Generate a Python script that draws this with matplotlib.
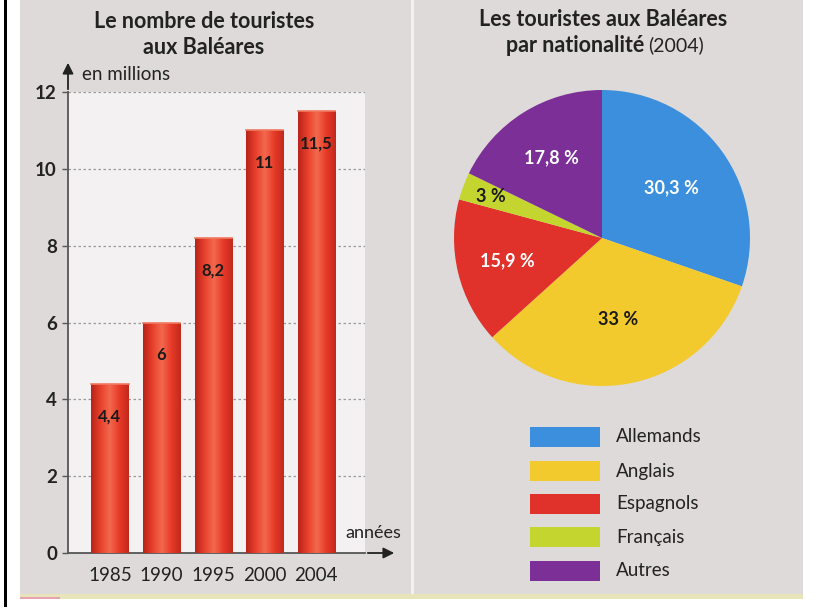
import matplotlib.pyplot as plt
import numpy as np
from matplotlib.colors import LinearSegmentedColormap
from matplotlib.patches import Rectangle

# Nombre de touristes (millions)
years = ["1985", "1990", "1995", "2000", "2004"]
tourists = [4.4, 6, 8.2, 11, 11.5]
tourist_labels = ["4,4", "6", "8,2", "11", "11,5"]

# Répartition par nationalité en 2004 (%)
nationalities = ["Allemands", "Anglais", "Espagnols", "Français", "Autres"]
shares = [30.3, 33, 15.9, 3, 17.8]
share_labels = ["30,3 %", "33 %", "15,9 %", "3 %", "17,8 %"]

pie_colors = ["#3b8fdc", "#f3ca2e", "#e0312a", "#c5d530", "#7b2f97"]
pie_text_colors = ["white", "#1a1a1a", "white", "#1a1a1a", "white"]
pie_text_dist = [0.58, 0.56, 0.66, 0.80, 0.64]

W, H = 822, 610
FONT = "Lato"
TXT = "#222222"

fig = plt.figure(figsize=(W / 100, H / 100), dpi=100)
fig.patch.set_facecolor("white")


def fx(px):
    return px / W


def fy(py):
    return 1 - py / H


def fig_rect(x0, y_top, w, h, color, z):
    fig.patches.append(Rectangle((fx(x0), fy(y_top + h)), w / W, h / H,
                                 transform=fig.transFigure, facecolor=color,
                                 edgecolor="none", zorder=z))


# fond gris et cadre
fig_rect(20, 0, 783, 599, "#dedad9", -10)
fig_rect(20, 594, 783, 5, "#e6e4b8", -9)
fig_rect(20, 597, 40, 2, "#e7a3b3", -9)
fig_rect(4, 0, 3, 607, "black", -9)
fig_rect(411, 0, 3, 594, "#f3f1f1", -9)

# ---------------------------------------------------------------------
# Histogramme
# ---------------------------------------------------------------------

ax = fig.add_axes([fx(68), fy(553), fx(365 - 68), (553 - 92) / H])
ax.set_zorder(1)
ax.set_facecolor("#f3f1f1")
x = np.arange(len(years))

for v in range(2, 13, 2):
    ax.axhline(v, color="#9a9a9a", linestyle=(0, (2, 2)), linewidth=0.9, zorder=1)

bar_cmap = LinearSegmentedColormap.from_list(
    "rouge", ["#b8241a", "#e8402c", "#f26a4e", "#e83a28", "#c22a1c"])
grad = np.linspace(0, 1, 64).reshape(1, -1)
bar_w = 0.72
bars = ax.bar(x, tourists, width=bar_w, color="#e23e2a", edgecolor="none", zorder=2)
for rect in bars:
    x0, w, h = rect.get_x(), rect.get_width(), rect.get_height()
    im = ax.imshow(grad, cmap=bar_cmap, aspect="auto",
                   extent=[x0, x0 + w, 0, h], zorder=3)
    im.set_clip_path(rect)
    ax.plot([x0, x0 + w], [h, h], color="#f07a60", linewidth=1.2, zorder=4)
ax.set_xlim(-0.816, 4.95)
ax.set_ylim(0, 12)

for xi, v, lab in zip(x, tourists, tourist_labels):
    ax.text(xi, v - 0.85, lab, ha="center", va="center", fontsize=12,
            fontweight="bold", color="#1a1a1a", family=FONT, zorder=5)

ax.set_xticks(x)
ax.set_xticklabels(years, fontsize=13.5, color=TXT, family=FONT)
ax.tick_params(axis="x", length=0, pad=10)
ax.set_yticks(range(0, 13, 2))
ax.set_yticklabels([str(v) for v in range(0, 13, 2)], fontsize=13.5,
                   color=TXT, family=FONT, fontweight="bold")
ax.tick_params(axis="y", length=4, width=1, color="#555555", pad=4)
for side in ["top", "right"]:
    ax.spines[side].set_visible(False)
for side in ["left", "bottom"]:
    ax.spines[side].set_color("#555555")
    ax.spines[side].set_linewidth(1.3)

# flèches des axes
fig.add_artist(plt.Annotation("", xy=(fx(68), fy(60)), xytext=(fx(68), fy(92)),
                              xycoords="figure fraction", textcoords="figure fraction",
                              arrowprops=dict(arrowstyle="-|>", color="#222222",
                                              lw=1.3, mutation_scale=16)))
fig.add_artist(plt.Annotation("", xy=(fx(397), fy(553)), xytext=(fx(365), fy(553)),
                              xycoords="figure fraction", textcoords="figure fraction",
                              arrowprops=dict(arrowstyle="-|>", color="#222222",
                                              lw=1.3, mutation_scale=16)))
fig.text(fx(82), fy(75), "en millions", fontsize=13.5, color=TXT, family=FONT,
         ha="left", va="center")
fig.text(fx(373), fy(533), "années", fontsize=13, color=TXT, family=FONT,
         ha="center", va="center")

fig.text(fx(204), fy(21), "Le nombre de touristes", fontsize=15.5, fontweight="bold",
         color=TXT, family=FONT, ha="center", va="center")
fig.text(fx(204), fy(47), "aux Baléares", fontsize=15.5, fontweight="bold",
         color=TXT, family=FONT, ha="center", va="center")

# ---------------------------------------------------------------------
# Camembert
# ---------------------------------------------------------------------

r_px = 148
cx, cy = 602, 238
pax = fig.add_axes([fx(cx - r_px), fy(cy + r_px), fx(2 * r_px), 2 * r_px / H])
pax.set_zorder(1)
wedges, _ = pax.pie(shares, colors=pie_colors, startangle=90, counterclock=False,
                    radius=1.0, wedgeprops=dict(linewidth=0))
pax.set_xlim(-1, 1)
pax.set_ylim(-1, 1)
pax.set_aspect("auto")
pax.axis("off")

for wdg, lab, col, d in zip(wedges, share_labels, pie_text_colors, pie_text_dist):
    ang = np.deg2rad((wdg.theta1 + wdg.theta2) / 2)
    pax.text(d * np.cos(ang), d * np.sin(ang), lab, ha="center", va="center",
             fontsize=13, fontweight="bold", color=col, family=FONT)

fig.text(fx(603), fy(19), "Les touristes aux Baléares", fontsize=15.5,
         fontweight="bold", color=TXT, family=FONT, ha="center", va="center")
fig.text(fx(644), fy(45), "par nationalité", fontsize=15.5, fontweight="bold",
         color=TXT, family=FONT, ha="right", va="center")
fig.text(fx(648), fy(45), "(2004)", fontsize=14, color=TXT, family=FONT,
         ha="left", va="center")

# légende
leg_y = [437, 471, 504, 537, 571]
for name, col, yy in zip(nationalities, pie_colors, leg_y):
    fig_rect(530, yy - 10, 70, 20, col, 2)
    fig.text(fx(616), fy(yy), name, fontsize=13.5, color=TXT, family=FONT,
             ha="left", va="center")

fig.savefig("out.png", dpi=100)
